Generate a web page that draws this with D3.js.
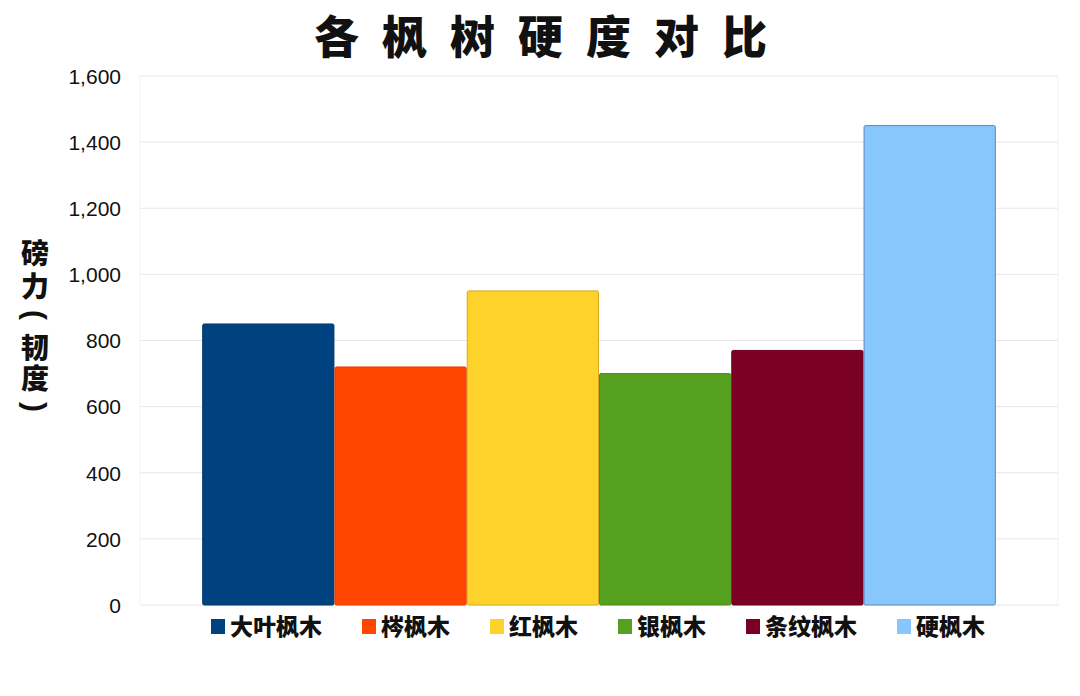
<!DOCTYPE html>
<html><head><meta charset="utf-8">
<script src="https://cdn.jsdelivr.net/npm/d3@7/dist/d3.min.js"></script>
<style>
html,body{margin:0;padding:0;background:#fff;}
text{font-family:"Liberation Sans","Noto Sans CJK SC",Arial,sans-serif;}
.cjk{font-family:"Noto Sans CJK SC",sans-serif;}
</style></head>
<body>
<svg id="chart" width="1080" height="696"></svg>
<script>
const title = "各枫树硬度对比";
const yAxisLabel = ["磅力","(","韧度",")"];
const categories = ["大叶枫木","梣枫木","红枫木","银枫木","条纹枫木","硬枫木"];
const values = [850, 720, 950, 700, 770, 1450];
const colors = ["#00427f","#ff4500","#fdd22a","#56a01f","#7a0024","#87c7fd"];
const strokes = ["#003a70","#e83e00","#d9a81a","#4a8c1a","#6a001e","#5f86b8"];
const yTicks = [0,200,400,600,800,1000,1200,1400,1600];

const svg = d3.select("#chart");
const plot = {left:140, right:1058, top:76, bottom:605};

const y = d3.scaleLinear().domain([0,1600]).range([plot.bottom, plot.top]);
const x = d3.scaleBand().domain(categories).range([plot.left, plot.right]).paddingInner(0).paddingOuter(0.47);

// gridlines
svg.append("g").selectAll("line").data(yTicks).join("line")
  .attr("x1", plot.left).attr("x2", plot.right)
  .attr("y1", d=>y(d)).attr("y2", d=>y(d))
  .attr("stroke", "#e6e6e6").attr("stroke-width", 1);
svg.append("line").attr("x1",plot.left).attr("x2",plot.left).attr("y1",plot.top).attr("y2",plot.bottom).attr("stroke","#f2f2f2");
svg.append("line").attr("x1",plot.right).attr("x2",plot.right).attr("y1",plot.top).attr("y2",plot.bottom).attr("stroke","#f2f2f2");

// y axis
const yAxis = d3.axisLeft(y).tickValues(yTicks).tickFormat(d3.format(",")).tickSize(0).tickPadding(0);
const ga = svg.append("g").attr("transform", `translate(121,0)`).call(yAxis);
ga.select(".domain").remove();
ga.selectAll("text").attr("font-size", 21).attr("fill", "#111")
  .attr("font-family", "'Liberation Sans', Arial, sans-serif").attr("dy","0.35em");

// bars
svg.append("g").selectAll("rect").data(categories).join("rect")
  .attr("x", d=>x(d)+0.5).attr("width", x.bandwidth()-1)
  .attr("y", (d,i)=>y(values[i])).attr("height", (d,i)=>y(0)-y(values[i]))
  .attr("fill", (d,i)=>colors[i]).attr("stroke", (d,i)=>strokes[i]).attr("stroke-width", 1)
  .attr("rx", 1.5);

// title
svg.append("text").attr("class","cjk").attr("x", 542+10).attr("y", 54)
  .attr("text-anchor","middle").attr("font-size", 45).attr("font-weight", 900)
  .attr("letter-spacing", 23).attr("fill","#111").text(title);

// y label: vertical text; parentheses turned for vertical layout
const labelPos = [{y:239, ls:5}, {y:315}, {y:333, ls:3}, {y:407}];
const lab = svg.append("g");
yAxisLabel.forEach((part,i)=>{
  const p = labelPos[i];
  if (part === "(" || part === ")") {
    lab.append("text")
      .attr("x", 35).attr("y", p.y).attr("dy", "0.35em")
      .attr("text-anchor","middle").attr("fill","#111")
      .attr("font-family","'Liberation Sans',Arial,sans-serif")
      .attr("font-size", 30).attr("font-weight", 700)
      .attr("transform", `rotate(90,35,${p.y})`)
      .text(part);
  } else {
    lab.append("text").attr("class","cjk")
      .attr("x", 35).attr("y", p.y)
      .style("writing-mode","vertical-rl")
      .attr("text-anchor","start").attr("fill","#111")
      .attr("font-size", 28).attr("font-weight", 900)
      .attr("letter-spacing", p.ls)
      .text(part);
  }
});

// legend
const lg = svg.append("g");
const fs = 23;
const itemW = categories.map(c => 14 + 5 + c.length*fs);
const gap = 40;
const total = d3.sum(itemW) + gap*(categories.length-1);
let cx = 598 - total/2;
categories.forEach((c,i)=>{
  const g = lg.append("g").attr("transform", `translate(${cx},0)`);
  g.append("rect").attr("x",0).attr("y",619).attr("width",14).attr("height",15).attr("fill",colors[i]);
  g.append("text").attr("class","cjk").attr("x",19).attr("y",627).attr("dy","0.36em")
    .attr("font-size",fs).attr("font-weight",900).attr("fill","#111").text(c);
  cx += itemW[i] + gap;
});
</script>
</body></html>
